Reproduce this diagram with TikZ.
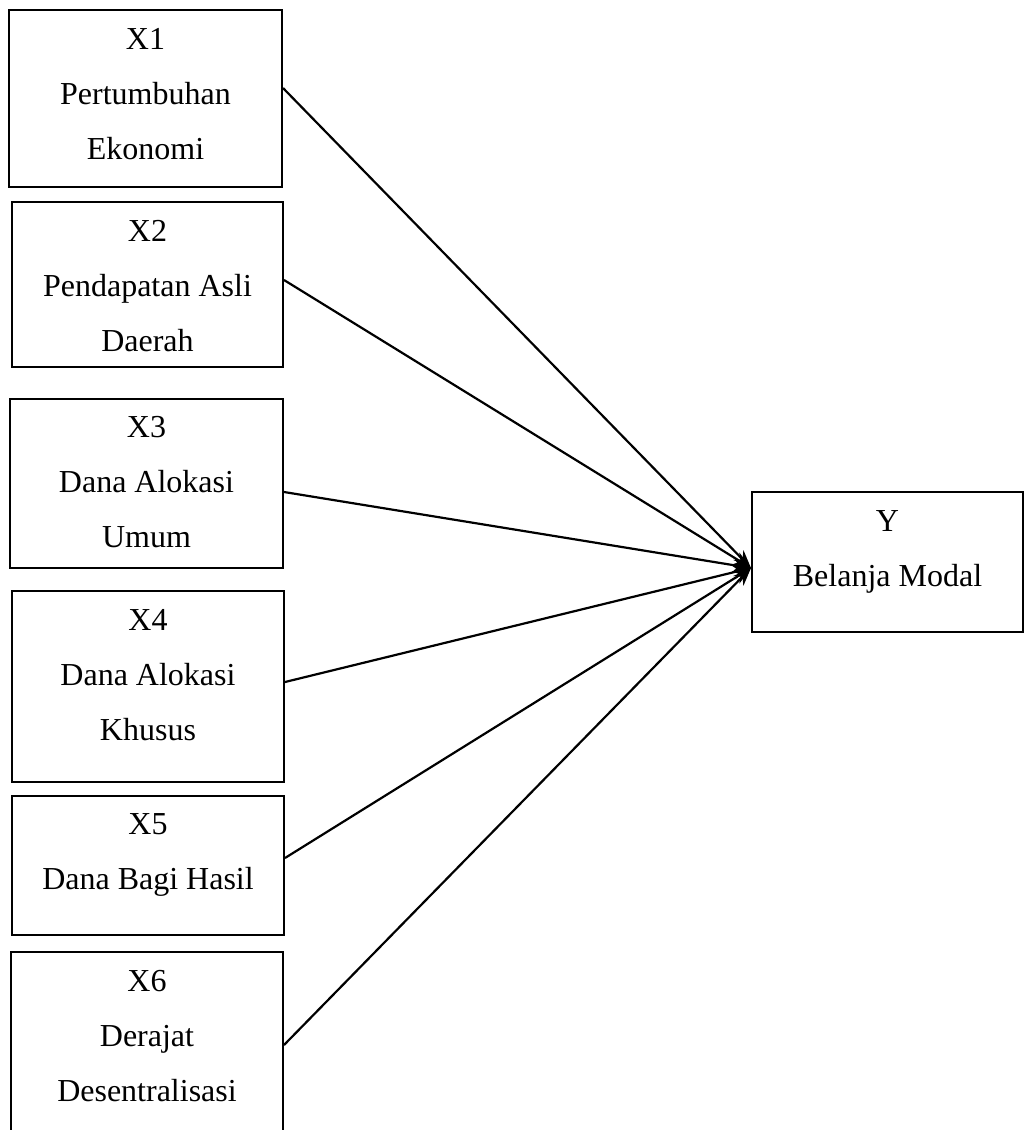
\documentclass[tikz,border=0pt]{standalone}
\usepackage{fontspec}
\setmainfont{Liberation Serif}
\usetikzlibrary{arrows.meta}
\begin{document}
\begin{tikzpicture}[x=1pt,y=-1pt,
  box/.style={draw=black,line width=2pt,rectangle,inner sep=0pt,fill=none},
  txt/.style={align=center,anchor=base,inner sep=0pt,font=\fontsize{32}{55}\selectfont},
  conn/.style={line width=2.2pt,-{Stealth[length=18pt,width=14pt]}}]
\useasboundingbox[fill=white] (0,0) rectangle (1024,1130);
\node[box,minimum width=273pt,minimum height=177pt] (x1) at (145.5,98.5) {};
\node[box,minimum width=271pt,minimum height=165pt] (x2) at (147.5,284.5) {};
\node[box,minimum width=273pt,minimum height=169pt] (x3) at (146.5,483.5) {};
\node[box,minimum width=272pt,minimum height=191pt] (x4) at (148,686.5) {};
\node[box,minimum width=272pt,minimum height=139pt] (x5) at (148,865.5) {};
\node[box,minimum width=272pt,minimum height=193pt] (x6) at (147,1048.5) {};
\node[box,minimum width=271pt,minimum height=140pt] (y) at (887.5,562) {};
\node[txt] (x1t) at ([yshift=-150pt]x1.north) {X1\\Pertumbuhan\\Ekonomi};
\node[txt] (x2t) at ([yshift=-150pt]x2.north) {X2\\Pendapatan Asli\\Daerah};
\node[txt] (x3t) at ([yshift=-149pt]x3.north) {X3\\Dana Alokasi\\Umum};
\node[txt] (x4t) at ([yshift=-150pt]x4.north) {X4\\Dana Alokasi\\Khusus};
\node[txt] (x5t) at ([yshift=-94pt]x5.north) {X5\\Dana Bagi Hasil};
\node[txt] (x6t) at ([yshift=-150pt]x6.north) {X6\\Derajat\\Desentralisasi};
\node[txt] (yt) at ([yshift=-95pt]y.north) {Y\\Belanja Modal};
\coordinate (yin) at (751,568);
\draw[conn] ([yshift=10.5pt]x1.east) -- (yin);
\draw[conn] ([yshift=4.5pt]x2.east) -- (yin);
\draw[conn] ([yshift=-8.5pt]x3.east) -- (yin);
\draw[conn] ([yshift=4.5pt]x4.east) -- (yin);
\draw[conn] ([yshift=7.5pt]x5.east) -- (yin);
\draw[conn] ([yshift=3.5pt]x6.east) -- (yin);
\end{tikzpicture}
\end{document}
